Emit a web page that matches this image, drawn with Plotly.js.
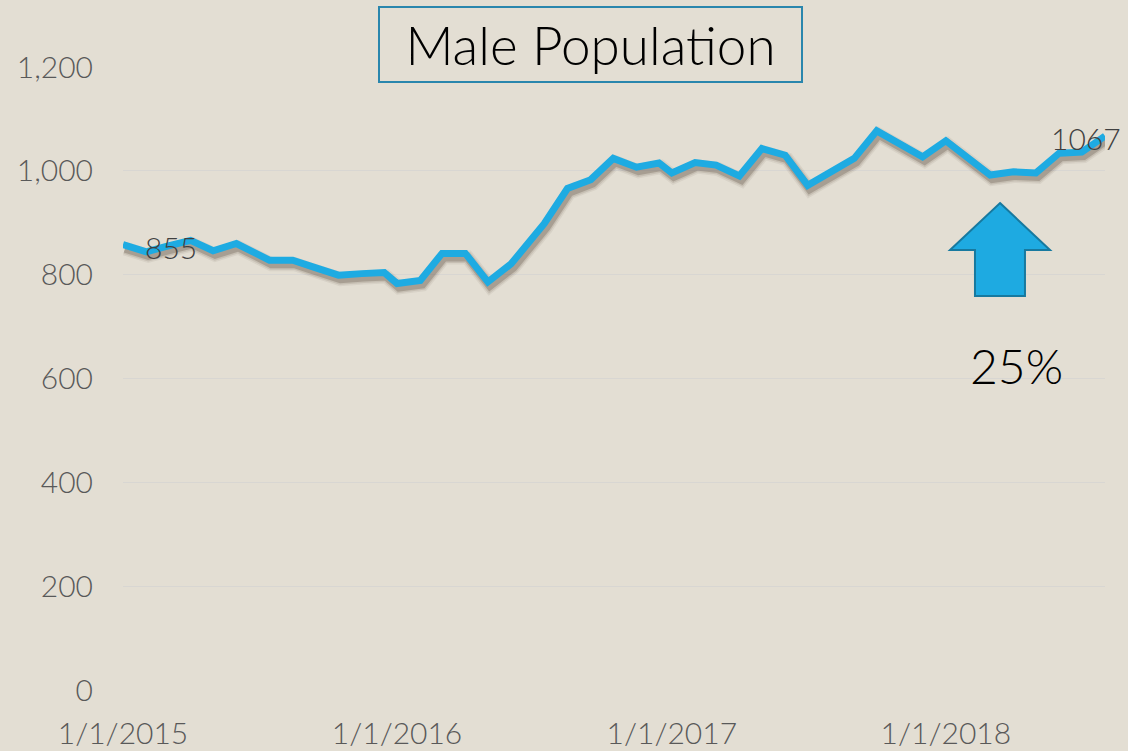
<!DOCTYPE html>
<html><head><meta charset="utf-8">
<script src="https://cdn.plot.ly/plotly-3.0.1.min.js"></script>
<style>html,body{margin:0;padding:0;background:#e3ded3;} #chart{width:1128px;height:751px;}</style>
</head><body><div id="chart"></div>
<script>
// ---- data ----
const dates = [
  '2015-01-01','2015-02-01','2015-03-01','2015-04-01','2015-05-01','2015-06-01',
  '2015-07-15','2015-08-15','2015-09-15','2015-10-15','2015-11-15','2015-12-15',
  '2016-01-01','2016-02-01','2016-03-01','2016-04-01','2016-05-01','2016-06-01',
  '2016-07-15','2016-08-15','2016-09-15','2016-10-15','2016-11-15','2016-12-15',
  '2017-01-01','2017-02-01','2017-03-01','2017-04-01','2017-05-01','2017-06-01',
  '2017-07-01','2017-08-01','2017-09-01','2017-10-01','2017-11-01','2017-12-01',
  '2018-01-01','2018-02-01','2018-03-01','2018-04-01','2018-05-01','2018-06-01',
  '2018-07-01','2018-08-01'
];
const malePopulation = [
  858, 844, 855, 866, 846, 860, 828, 828, 813, 799, 802, 804,
  783, 789, 841, 841, 786, 821, 898, 966, 983, 1024, 1007, 1015,
  996, 1016, 1011, 990, 1043, 1030, 972, 997, 1024, 1077, 1050, 1027,
  1058, 1022, 992, 998, 996, 1034, 1036, 1067
];
const labelledIdx = [2, 43];
const xTickVals = ['2015-01-01','2016-01-01','2017-01-01','2018-01-01'];
const xTickText = ['1/1/2015','1/1/2016','1/1/2017','1/1/2018'];
const yTickVals = [0, 200, 400, 600, 800, 1000, 1200];
const chartTitle = 'Male Population';
const calloutText = '25%';

// ---- layout constants ----
const BG = '#e3ded3';
const LINE = '#1eabe2';
const FONT = 'Lato, Open Sans, DejaVu Sans, sans-serif';
const M = {l: 123, r: 23, t: 67, b: 61};
const W = 1128, H = 751;
const PW = W - M.l - M.r, PH = H - M.t - M.b;
const xRange = [dates[0], dates[dates.length - 1]];
const yRange = [0, 1200];

function shiftDate(s, days) {
  const d = new Date(s + 'T00:00:00Z');
  return new Date(d.getTime() + days * 86400000).toISOString().slice(0, 19).replace('T', ' ');
}
const spanDays = (new Date(xRange[1]) - new Date(xRange[0])) / 86400000;
const pxPerDay = PW / spanDays;
const pxPerUnit = PH / (yRange[1] - yRange[0]);
const shadowDx = 2, shadowDy = 4;
const xRangeShadow = [shiftDate(xRange[0], -shadowDx / pxPerDay), shiftDate(xRange[1], -shadowDx / pxPerDay)];
const yRangeShadow = [yRange[0] + shadowDy / pxPerUnit, yRange[1] + shadowDy / pxPerUnit];

const shadowTraces = [[14, 0.07], [11, 0.12], [8, 0.24]].map(([w, o]) => ({
  x: dates, y: malePopulation, type: 'scatter', mode: 'lines',
  xaxis: 'x2', yaxis: 'y2', hoverinfo: 'skip', showlegend: false,
  line: {color: 'rgba(70,55,40,' + o + ')', width: w, shape: 'linear'}
}));
const mainTrace = {
  x: dates, y: malePopulation, type: 'scatter', mode: 'lines',
  xaxis: 'x3', yaxis: 'y3', showlegend: false,
  line: {color: LINE, width: 7}
};

// paper-coordinate helpers for decorations
const px2x = px => (px - M.l) / PW;
const px2y = py => (H - M.b - py) / PH;

const arrowPts = [[1000, 203], [1050, 250], [1025, 250], [1025, 296], [975, 296], [975, 250], [950, 250]];
const arrowPath = 'M ' + arrowPts.map(p => px2x(p[0]).toFixed(4) + ',' + px2y(p[1]).toFixed(4)).join(' L ') + ' Z';

const annotations = [
  {
    xref: 'paper', yref: 'paper', x: px2x(590.5), y: px2y(44.5),
    xanchor: 'center', yanchor: 'middle', showarrow: false,
    text: chartTitle, font: {family: FONT, size: 53, color: '#000000', weight: 300},
    width: 421, height: 73, bordercolor: '#2a86ad', borderwidth: 2, borderpad: 0,
    bgcolor: 'rgba(0,0,0,0)'
  },
  {
    xref: 'paper', yref: 'paper', x: px2x(1016), y: px2y(365),
    xanchor: 'center', yanchor: 'middle', showarrow: false,
    text: calloutText, font: {family: FONT, size: 48, color: '#000000', weight: 300}
  },
  {
    xref: 'x', yref: 'y', x: dates[labelledIdx[0]], y: malePopulation[labelledIdx[0]],
    xanchor: 'center', yanchor: 'middle', showarrow: false, xshift: 4, yshift: -1,
    text: String(malePopulation[labelledIdx[0]]), font: {family: FONT, size: 30, color: '#404040', weight: 300}
  },
  {
    xref: 'x', yref: 'y', x: dates[labelledIdx[1]], y: malePopulation[labelledIdx[1]],
    xanchor: 'right', yanchor: 'middle', showarrow: false, xshift: 18, yshift: -2,
    text: String(malePopulation[labelledIdx[1]]), font: {family: FONT, size: 30, color: '#404040', weight: 300}
  }
];

const hiddenAxis = {showgrid: false, zeroline: false, showticklabels: false, showline: false, ticks: ''};

const layout = {
  width: W, height: H, margin: M,
  paper_bgcolor: BG, plot_bgcolor: BG,
  font: {family: FONT, color: '#595959'},
  showlegend: false,
  xaxis: {
    type: 'date', range: xRange, tickmode: 'array', tickvals: xTickVals, ticktext: xTickText,
    showgrid: false, zeroline: false, showline: false, ticks: '',
    tickfont: {family: FONT, size: 30, color: '#595959', weight: 300}, ticklabelstandoff: 23
  },
  yaxis: {
    range: yRange, tickmode: 'array', tickvals: yTickVals, tickformat: ',d',
    showgrid: true, gridcolor: '#d8d6d2', gridwidth: 1.2, zeroline: false, showline: false, ticks: '',
    tickfont: {family: FONT, size: 30, color: '#595959', weight: 300}, ticklabelstandoff: 29
  },
  xaxis2: Object.assign({type: 'date', range: xRangeShadow, overlaying: 'x'}, hiddenAxis),
  yaxis2: Object.assign({range: yRangeShadow, overlaying: 'y'}, hiddenAxis),
  xaxis3: Object.assign({type: 'date', range: xRange, overlaying: 'x'}, hiddenAxis),
  yaxis3: Object.assign({range: yRange, overlaying: 'y'}, hiddenAxis),
  shapes: [{
    type: 'path', xref: 'paper', yref: 'paper', path: arrowPath,
    fillcolor: '#1eaae1', line: {color: '#17799f', width: 2}, layer: 'above'
  }],
  annotations: annotations
};

Plotly.newPlot('chart', shadowTraces.concat([mainTrace]), layout, {displayModeBar: false, staticPlot: true});
</script>
</body></html>
